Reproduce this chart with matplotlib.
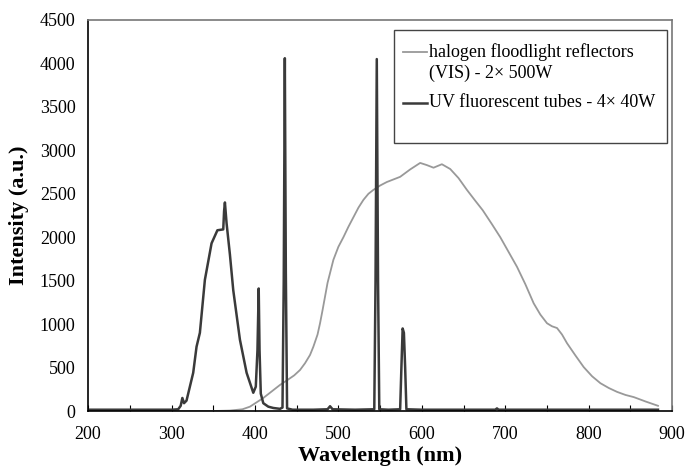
import numpy as np
import matplotlib.pyplot as plt
from matplotlib.patches import Rectangle
from matplotlib.ticker import MultipleLocator

# espectro de los reflectores halógenos (VIS)
hal_nm = [200, 300, 350, 370, 385, 394, 402, 410, 422, 430, 439, 447, 454, 460, 466,
          470, 475, 478, 481, 487, 494, 500, 506, 512, 518, 524, 530, 536, 542, 550,
          558, 566, 574, 586, 598, 606, 614, 624, 634, 644, 654, 664, 673, 684, 694,
          704, 714, 724, 734, 742, 750, 756, 762, 768, 774, 784, 794, 804, 814, 824,
          834, 844, 854, 868, 883]
hal_int = [0, 0, 0, 5, 20, 50, 100, 150, 240, 300, 357, 410, 472, 550, 645,
           740, 880, 1010, 1160, 1475, 1740, 1890, 2000, 2120, 2230, 2340, 2430, 2500, 2545, 2595,
           2635, 2665, 2695, 2780, 2855, 2830, 2800, 2840, 2785, 2680, 2545, 2420, 2310, 2150, 2000,
           1830, 1660, 1460, 1240, 1110, 1010, 975, 955, 880, 780, 640, 505, 400, 320, 265,
           220, 185, 160, 110, 60]

# espectro de los tubos fluorescentes UV
uv_nm = [200, 250, 300, 308, 311, 313, 315, 318, 322, 326, 330, 334, 340, 348, 355,
         362, 363, 364, 366, 370, 374, 382, 390, 398, 401, 403, 404.5, 405.5, 407, 410,
         416, 422, 430, 433, 434.5, 435.8, 437, 438.5, 445, 470, 487, 490, 493, 520,
         543, 544.5, 546, 547.5, 549, 560, 574, 575.5, 577, 578.5, 580, 581.5, 600, 688,
         690, 692, 750, 850, 883]
uv_int = [15, 15, 15, 20, 60, 150, 90, 120, 280, 440, 740, 900, 1510, 1930, 2080,
          2090, 2300, 2400, 2160, 1800, 1390, 820, 440, 210, 280, 700, 1410, 700, 200, 90,
          50, 35, 25, 40, 1500, 4060, 1600, 30, 15, 15, 20, 55, 20, 15,
          20, 1500, 4050, 1500, 20, 15, 20, 500, 950, 900, 500, 20, 15, 15,
          30, 15, 15, 15, 15]

hal_label = ['halogen floodlight reflectors', '(VIS) - 2\u00d7 500W']
uv_label = 'UV fluorescent tubes - 4\u00d7 40W'

plt.rcParams['font.family'] = ['Liberation Serif', 'DejaVu Serif']

HAL_COLOR = '#999999'
UV_COLOR = '#3a3a3a'

fig = plt.figure(figsize=(6.88, 4.70), dpi=100)
ax = fig.add_axes([0.128, 0.1255, 0.849, 0.832])

ax.plot(hal_nm, hal_int, color=HAL_COLOR, lw=1.3)
ax.plot(uv_nm, uv_int, color=UV_COLOR, lw=1.8)

ax.set_xlim(200, 900)
ax.set_ylim(0, 4500)
ax.xaxis.set_major_locator(MultipleLocator(100))
ax.xaxis.set_minor_locator(MultipleLocator(50))
ax.yaxis.set_major_locator(MultipleLocator(500))
ax.tick_params(axis='x', which='both', direction='in', length=4, width=0.8,
               labelsize=13, pad=11)
ax.tick_params(axis='y', length=0, labelsize=13, pad=9)

for s in ['left', 'bottom']:
    ax.spines[s].set_color('black')
    ax.spines[s].set_linewidth(1.2)
for s in ['top', 'right']:
    ax.spines[s].set_color('#777777')
    ax.spines[s].set_linewidth(1.2)

ax.set_xlabel('Wavelength (nm)', fontsize=16, fontweight='bold', labelpad=2)
ax.set_ylabel('Intensity (a.u.)', fontsize=16, fontweight='bold', labelpad=8)

# leyenda dibujada a mano (caja con espacio extra abajo, como el original)
tr = ax.transAxes
ax.add_patch(Rectangle((0.524, 0.6854), 0.4674, 0.289, transform=tr, fill=True,
                       facecolor='white', edgecolor='#444444', lw=1.0, zorder=5))
ax.plot([0.5394, 0.5805], [0.918, 0.918], transform=tr, color=HAL_COLOR, lw=1.3, zorder=6)
ax.plot([0.5394, 0.5805], [0.7877, 0.7877], transform=tr, color=UV_COLOR, lw=1.8, zorder=6)
ax.text(0.5845, 0.918, hal_label[0], transform=tr, fontsize=13, va='center', zorder=6)
ax.text(0.5845, 0.8645, hal_label[1], transform=tr, fontsize=13, va='center', zorder=6)
ax.text(0.5845, 0.7877, uv_label, transform=tr, fontsize=13, va='center', zorder=6)

plt.savefig('out.png', dpi=100)
